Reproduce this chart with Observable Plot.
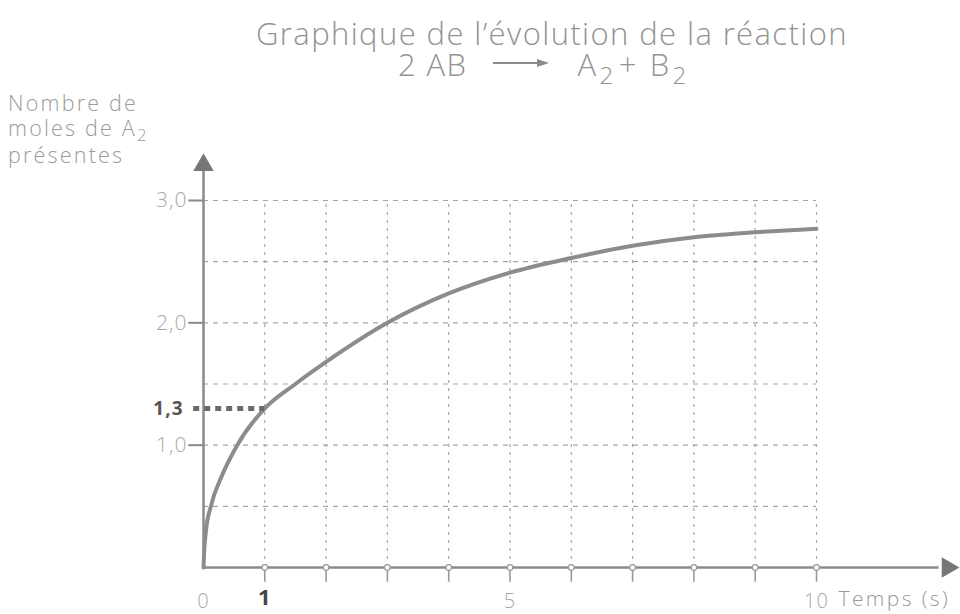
<!DOCTYPE html>
<html>
<head>
<meta charset="utf-8">
<script src="https://cdn.jsdelivr.net/npm/d3@7"></script>
<script src="https://cdn.jsdelivr.net/npm/@observablehq/plot@0.6"></script>
<style>
  html, body { margin: 0; padding: 0; background: #fff; }
  #page { position: relative; width: 960px; height: 614px; overflow: hidden; font-family: "Open Sans", Lato, sans-serif; }
  .title-line { position: absolute; color: #939393; font-weight: 300; font-size: 31px; line-height: 28px; letter-spacing: 1.4px; white-space: nowrap; z-index: 2; }
  #title1 { left: 0; width: 1104px; text-align: center; top: 19px; }
  #title2 { left: 398px; top: 50px; }
  .sub { font-size: 0.78em; position: relative; top: 0.32em; }
  #title2 .sub { margin-left: 2px; }
  #title2 .plus { margin: 0 12px 0 4px; }
  #title2 .arrow { display: inline-block; width: 56px; height: 10px; margin: 0 28px 0 26px; position: relative; top: -8px; }
  #ylabel { position: absolute; left: 8px; top: 90px; color: #9a9a9a; font-weight: 300; font-size: 21.5px; line-height: 25px; letter-spacing: 2.2px; z-index: 2; }
  #chart { position: absolute; left: 0; top: 88px; z-index: 1; }
  #chart text { letter-spacing: 1px; }
  #chart .wide text { letter-spacing: 2.4px; }
</style>
</head>
<body>
<div id="page">
  <div id="title1" class="title-line">Graphique de l’évolution de la réaction</div>
  <div id="title2" class="title-line">2 AB<svg class="arrow" viewBox="0 0 56 10"><line x1="0" y1="5" x2="46" y2="5" stroke="#8a8a8a" stroke-width="2"/><path d="M44,1 L56,5 L44,9 Z" fill="#8a8a8a"/></svg>A<span class="sub">2</span><span class="plus">+</span>B<span class="sub">2</span></div>
  <div id="ylabel">Nombre de<br>moles de A<span class="sub">2</span><br>présentes</div>
  <div id="chart"></div>
</div>
<script>
// Moles of A2 formed over time for 2 AB -> A2 + B2
const timeS   = [0, 0.01, 0.04, 0.12, 0.3, 0.55, 1, 1.5, 2, 3, 4, 5, 6, 7, 8, 9, 10];
const molesA2 = [0, 0.12, 0.3, 0.5, 0.75, 1.0, 1.3, 1.5, 1.68, 2.0, 2.24, 2.41, 2.53, 2.63, 2.70, 2.74, 2.77];

// Grid lines and tick labels
const gridTimes = [1, 2, 3, 4, 5, 6, 7, 8, 9, 10];
const gridMoles = [0.5, 1, 1.5, 2, 2.5, 3];
const yTickValues = [1, 2, 3];
const yTickLabels = ["1,0", "2,0", "3,0"];
const xTickValues = [0, 5, 10];
const xTickLabels = ["0", "5", "10"];
const xAxisTitle = "Temps (s)";

// Highlighted reading at t = 1 s
const markedTime = 1;
const markedMoles = 1.3;
const markedLabel = "1,3";

const curve = timeS.map((t, i) => ({t, n: molesA2[i]}));
const yTicks = yTickValues.map((v, i) => ({v, label: yTickLabels[i]}));
const xTicks = xTickValues.map((v, i) => ({v, label: xTickLabels[i]}));

const axisColor = "#8a8a8a";
const gridColor = "#a5a5a5";

const chart = Plot.plot({
  width: 960,
  height: 526,
  x: {domain: [0, 10], range: [203, 816], axis: null},
  y: {domain: [0, 3], range: [479, 112], axis: null},
  style: {fontFamily: "'Open Sans', Lato, sans-serif", background: "transparent"},
  marks: [
    // dashed grid
    Plot.ruleY(gridMoles, {y: d => d, x1: 0, x2: 10, stroke: gridColor, strokeWidth: 1.2, strokeDasharray: "5,5"}),
    Plot.ruleX(gridTimes, {x: d => d, y1: 0, y2: 3, stroke: gridColor, strokeWidth: 1.2, strokeDasharray: "3,5"}),
    // tick stubs below the time axis
    Plot.ruleX(gridTimes, {x: d => d, y1: 0, y2: -0.12, stroke: "#999", strokeWidth: 1.6}),
    // ticks left of the moles axis
    Plot.ruleY(yTickValues, {y: d => d, x1: -0.24, x2: 0, stroke: axisColor, strokeWidth: 2}),
    // axes
    Plot.ruleY([0], {x1: 0, x2: 12.0, stroke: axisColor, strokeWidth: 2.5}),
    Plot.ruleX([0], {y1: 0, y2: 3.25, stroke: axisColor, strokeWidth: 2.5}),
    // arrow heads
    Plot.dot([{x: 12.14, y: 0}], {x: "x", y: "y", symbol: "triangle", r: 7.6, fill: "#777", stroke: "none", rotate: 90}),
    Plot.dot([{x: 0, y: 3.29}], {x: "x", y: "y", symbol: "triangle", r: 7.6, fill: "#777", stroke: "none"}),
    // small rings where the grid meets the time axis
    Plot.dot(gridTimes, {x: d => d, y: 0, r: 2.8, fill: "white", stroke: "#999", strokeWidth: 1.2}),
    // reaction curve
    Plot.line(curve, {x: "t", y: "n", curve: "monotone-x", stroke: "#8c8c8c", strokeWidth: 4}),
    // highlighted value at t = 1 s
    Plot.ruleY([markedMoles], {y: d => d, x1: -0.16, x2: markedTime, stroke: "#6a6a6a", strokeWidth: 5, strokeDasharray: "6,5"}),
    Plot.text([markedLabel], {x: 0, y: markedMoles, text: d => d, dx: -20, textAnchor: "end", fontSize: 19, fontWeight: "bold", fill: "#555"}),
    // moles axis labels
    Plot.text(yTicks, {x: 0, y: "v", text: "label", dx: -16, textAnchor: "end", fontSize: 21, fontWeight: 300, fill: "#a8a8a8"}),
    // time axis labels
    Plot.text(xTicks, {x: "v", y: 0, text: "label", dy: 34, fontSize: 20, fontWeight: 300, fill: "#a8a8a8"}),
    Plot.text([markedTime], {x: d => d, y: 0, text: d => String(d), dy: 30, fontSize: 22, fontWeight: "bold", fill: "#444"}),
    Plot.text([xAxisTitle], {x: 10, y: 0, text: d => d, dx: 22, dy: 32, textAnchor: "start", fontSize: 21, fontWeight: 300, fill: "#999", className: "wide"})
  ]
});
document.getElementById("chart").appendChild(chart);
</script>
</body>
</html>
